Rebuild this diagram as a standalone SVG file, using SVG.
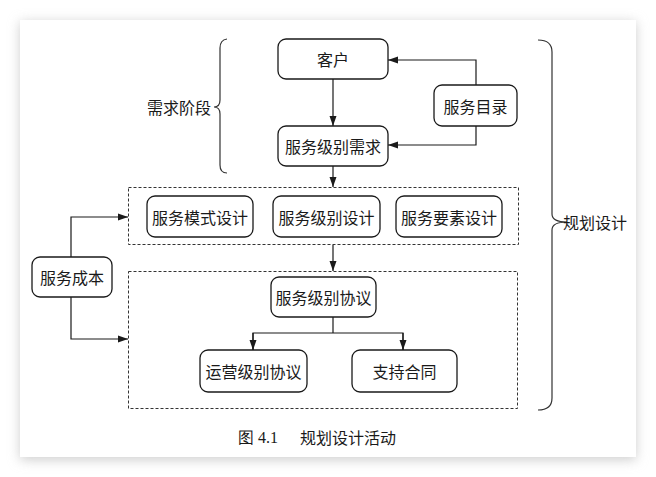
<svg xmlns="http://www.w3.org/2000/svg" width="656" height="477" viewBox="0 0 656 477">
<defs>
<filter id="sh" x="-10%" y="-10%" width="120%" height="120%"><feGaussianBlur stdDeviation="6"/></filter>
<marker id="ar" viewBox="0 0 10 10" refX="10" refY="5" markerWidth="10" markerHeight="10" markerUnits="userSpaceOnUse" orient="auto"><path d="M0,1.5 L10,5 L0,8.5 Z" fill="#1a1a1a"/></marker>
<style>
.n{fill:#fff;stroke:#1a1a1a;stroke-width:1.3}
.d{fill:none;stroke:#333;stroke-width:1;stroke-dasharray:3,2}
.c{fill:none;stroke:#1a1a1a;stroke-width:1.2}
.b{fill:none;stroke:#333;stroke-width:1.2}
text{font-family:"Noto Sans CJK SC","Noto Sans",sans-serif;font-size:16px;fill:#1a1a1a;text-anchor:middle;dominant-baseline:central}
</style>
</defs>
<rect width="656" height="477" fill="#fff"/>
<rect x="20" y="22" width="616" height="438" fill="#cfcfcf" filter="url(#sh)"/>
<rect x="20" y="20" width="616" height="437" fill="#fff"/>

<g id="braces">
<path class="b" d="M227,39 Q220,40 220,48 L220,100 Q220,107 214,107 Q220,107 220,114 L220,165 Q220,173 227,173"/>
<path class="b" d="M538,40 Q552,40 552,52 L552,214 Q552,222 567,222 Q552,222 552,230 L552,398 Q552,410 538,410"/>
</g>
<g id="label-req"><text x="179" y="107">需求阶段</text></g>
<g id="label-plan"><text x="595" y="222">规划设计</text></g>

<g id="group1"><rect class="d" x="128.5" y="187.5" width="390" height="57"/></g>
<g id="group2"><rect class="d" x="128.5" y="271.5" width="389" height="137"/></g>

<g id="connectors">
<line class="c" x1="333" y1="79" x2="333" y2="126" marker-end="url(#ar)"/>
<polyline class="c" points="476,85 476,60 388,60" marker-end="url(#ar)"/>
<polyline class="c" points="476,126 476,145 388,145" marker-end="url(#ar)"/>
<line class="c" x1="333" y1="166" x2="333" y2="187" marker-end="url(#ar)"/>
<line class="c" x1="333" y1="245" x2="333" y2="271" marker-end="url(#ar)"/>
<polyline class="c" points="71,257 71,217 128,217" marker-end="url(#ar)"/>
<polyline class="c" points="71,297 71,339 128,339" marker-end="url(#ar)"/>
<line class="c" x1="333" y1="317" x2="333" y2="333"/>
<polyline class="c" points="253,350 253,333 403,333 403,350" fill="none"/>
<line class="c" x1="253" y1="333" x2="253" y2="350" marker-end="url(#ar)"/>
<line class="c" x1="403" y1="333" x2="403" y2="350" marker-end="url(#ar)"/>
</g>

<g id="kehu"><rect class="n" x="278" y="39" width="110" height="40" rx="8"/><text x="333" y="59">客户</text></g>
<g id="mulu"><rect class="n" x="434" y="85" width="83" height="41" rx="8"/><text x="475.5" y="105.5">服务目录</text></g>
<g id="xuqiu"><rect class="n" x="278" y="126" width="110" height="40" rx="8"/><text x="333" y="146">服务级别需求</text></g>
<g id="moshi"><rect class="n" x="147" y="196" width="106" height="41" rx="8"/><text x="200" y="216.5">服务模式设计</text></g>
<g id="jibie"><rect class="n" x="273" y="196" width="107" height="41" rx="8"/><text x="326.5" y="216.5">服务级别设计</text></g>
<g id="yaosu"><rect class="n" x="396" y="196" width="106" height="41" rx="8"/><text x="449" y="216.5">服务要素设计</text></g>
<g id="chengben"><rect class="n" x="32" y="257" width="80" height="40" rx="8"/><text x="72" y="277">服务成本</text></g>
<g id="xieyi"><rect class="n" x="271" y="277" width="105" height="40" rx="8"/><text x="323.5" y="297">服务级别协议</text></g>
<g id="yunying"><rect class="n" x="200" y="350" width="107" height="42" rx="8"/><text x="253.5" y="371">运营级别协议</text></g>
<g id="hetong"><rect class="n" x="352" y="350" width="105" height="42" rx="8"/><text x="404.5" y="371">支持合同</text></g>

<g id="caption"><text x="238" y="437" style="text-anchor:start"><tspan font-family="'Liberation Serif',serif">图 4.1</tspan><tspan dx="22">规划设计活动</tspan></text></g>
</svg>
